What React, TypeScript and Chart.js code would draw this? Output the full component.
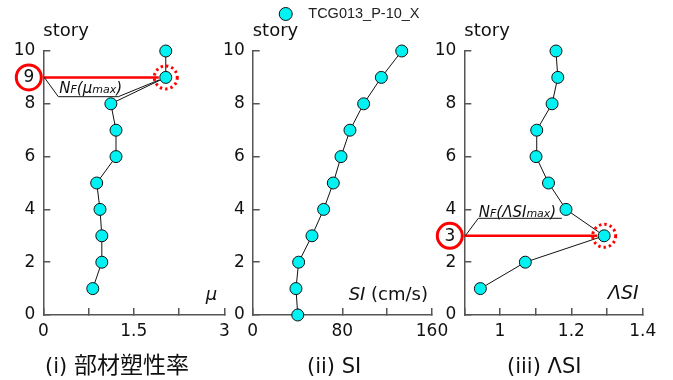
import React, { useEffect, useRef } from "react";
import { Chart, registerables } from "chart.js";

Chart.register(...registerables);

const W = 673;
const H = 380;
const FONT = "'DejaVu Sans', 'Liberation Sans', sans-serif";
const LEGEND_FONT = "'Liberation Sans', Arial, sans-serif";
const CJK_FONT = "'Noto Sans CJK JP', 'Noto Sans CJK SC', sans-serif";
const INK = "#111111";
const AXIS = "#555555";
const RED = "#ff0000";
const CYAN = "#00f2f2";

// ---------------- data ----------------
const seriesName = "TCG013_P-10_X";
const storyTicks = [0, 2, 4, 6, 8, 10];

const muStories = [1, 2, 3, 4, 5, 6, 7, 8, 9, 10];
const muValues = [0.82, 0.97, 0.97, 0.94, 0.885, 1.205, 1.205, 1.12, 2.03, 2.03];
const muTicks = [0, 0.75, 1.5, 2.25, 3];
const muTickLabels = ["0", "", "1.5", "", "3"];

const siStories = [0, 1, 2, 3, 4, 5, 6, 7, 8, 9, 10];
const siValues = [40.2, 38.6, 41, 52.9, 63.3, 71.9, 78.8, 86.8, 99, 114.8, 133];
const siTicks = [0, 40, 80, 120, 160];
const siTickLabels = ["0", "", "80", "", "160"];

const lsiStories = [1, 2, 3, 4, 5, 6, 7, 8, 9, 10];
const lsiValues = [0.945, 1.071, 1.292, 1.185, 1.136, 1.101, 1.103, 1.146, 1.162, 1.157];
const lsiTicks = [0.9, 1.0, 1.1, 1.2, 1.3, 1.4];
const lsiTickLabels = ["", "1", "", "1.2", "", "1.4"];

const muMaxStory = 9;
const lsiMaxStory = 3;

const captions = ["(i) ", "部材塑性率", "(ii) SI", "(iii) ΛSI"];

// ---------------- layout ----------------
const PANELS = [
  { left: 43.3, right: 224.3, xMin: 0, xMax: 3 },
  { left: 252.7, right: 432, xMin: 0, xMax: 160 },
  { left: 464.3, right: 642.7, xMin: 0.9, xMax: 1.4 },
];
const PLOT_BOTTOM = 315;
const Y_AXIS_W = 40;
const X_AXIS_H = 30;

type Part = { t: string; s: number; i?: boolean; f?: string };

function drawParts(ctx: CanvasRenderingContext2D, parts: Part[], x: number, y: number, align: "left" | "right" = "left") {
  ctx.save();
  ctx.textBaseline = "alphabetic";
  ctx.textAlign = "left";
  ctx.fillStyle = INK;
  const fonts = parts.map((p) => `${p.i ? "italic " : ""}${p.s}px ${p.f || FONT}`);
  const ws = parts.map((p, k) => {
    ctx.font = fonts[k];
    return ctx.measureText(p.t).width;
  });
  const total = ws.reduce((a, b) => a + b, 0);
  let cx = align === "right" ? x - total : x;
  parts.forEach((p, k) => {
    ctx.font = fonts[k];
    ctx.fillText(p.t, cx, y);
    cx += ws[k];
  });
  ctx.restore();
}

function line(ctx: CanvasRenderingContext2D, pts: number[][], color: string, width: number) {
  ctx.save();
  ctx.strokeStyle = color;
  ctx.lineWidth = width;
  ctx.beginPath();
  pts.forEach((p, k) => (k === 0 ? ctx.moveTo(p[0], p[1]) : ctx.lineTo(p[0], p[1])));
  ctx.stroke();
  ctx.restore();
}

function annotationPlugin(idx: number) {
  const maxInfo =
    idx === 0
      ? { story: muMaxStory, value: muValues[muStories.indexOf(muMaxStory)] }
      : idx === 2
      ? { story: lsiMaxStory, value: lsiValues[lsiStories.indexOf(lsiMaxStory)] }
      : null;
  return {
    id: "annot" + idx,
    beforeDatasetsDraw(chart: any) {
      const { ctx, chartArea: ca, scales } = chart;
      if (!maxInfo) return;
      const py = scales.y.getPixelForValue(maxInfo.story);
      const px = scales.x.getPixelForValue(maxInfo.value);
      line(ctx, [[ca.left, py], [px - 7, py]], RED, 2.5);
      if (idx === 0) {
        line(ctx, [[ca.left + 1, py], [ca.left + 15, py + 19.3], [ca.left + 75, py + 19.3], [px - 6.5, py + 2.5]], INK, 1);
      } else {
        line(ctx, [[ca.left + 1, py], [ca.left + 14, py - 17.5], [ca.left + 97.5, py - 17.5]], INK, 1);
      }
    },
    afterDatasetsDraw(chart: any) {
      const { ctx, chartArea: ca, scales } = chart;
      if (maxInfo) {
        const py = scales.y.getPixelForValue(maxInfo.story);
        const px = scales.x.getPixelForValue(maxInfo.value);
        const cx = ca.left - 14.5;
        ctx.save();
        ctx.strokeStyle = RED;
        ctx.lineWidth = 3;
        ctx.beginPath();
        ctx.arc(cx, py, 12.5, 0, Math.PI * 2);
        ctx.stroke();
        ctx.fillStyle = INK;
        ctx.font = `17px ${FONT}`;
        ctx.textAlign = "center";
        ctx.textBaseline = "middle";
        ctx.fillText(String(maxInfo.story), cx, py + 0.5);
        ctx.setLineDash([2.4, 3]);
        ctx.beginPath();
        ctx.arc(px, py, 11.5, 0, Math.PI * 2);
        ctx.stroke();
        ctx.restore();
        if (idx === 0) {
          drawParts(ctx, [
            { t: "N", s: 15, i: true },
            { t: "F", s: 11, i: true },
            { t: "(μ", s: 15, i: true },
            { t: "max", s: 11, i: true },
            { t: ")", s: 15, i: true },
          ], ca.left + 16, py + 16);
        } else {
          drawParts(ctx, [
            { t: "N", s: 15, i: true },
            { t: "F", s: 11, i: true },
            { t: "(ΛSI", s: 15, i: true },
            { t: "max", s: 11, i: true },
            { t: ")", s: 15, i: true },
          ], ca.left + 14.5, py - 19);
        }
      }
      if (idx === 0) {
        drawParts(ctx, [{ t: "μ", s: 18, i: true }], ca.right - 7, ca.bottom - 15, "right");
        drawParts(ctx, [{ t: captions[0], s: 21 }, { t: captions[1], s: 23, f: CJK_FONT }], ca.left + 1.7, 372.5);
      } else if (idx === 1) {
        drawParts(ctx, [{ t: "SI", s: 18, i: true }, { t: " (cm/s)", s: 18 }], ca.right - 4, ca.bottom - 15, "right");
        drawParts(ctx, [{ t: captions[2], s: 21 }], ca.left + 54.3, 372.5);
      } else {
        drawParts(ctx, [{ t: "ΛSI", s: 19, i: true }], ca.right - 4, ca.bottom - 16, "right");
        drawParts(ctx, [{ t: captions[3], s: 21 }], ca.left + 42.7, 372.5);
      }
    },
  };
}

function axisCommon() {
  return {
    grid: { display: true, drawOnChartArea: false, drawTicks: true, tickLength: -7, color: AXIS, lineWidth: 1.5 },
    border: { display: true, color: AXIS, width: 1.5 },
  };
}

function buildConfig(idx: number): any {
  const stories = [muStories, siStories, lsiStories][idx];
  const values = [muValues, siValues, lsiValues][idx];
  const xt = [muTicks, siTicks, lsiTicks][idx];
  const xl = [muTickLabels, siTickLabels, lsiTickLabels][idx];
  const geo = PANELS[idx];
  const withLegend = idx === 1;
  return {
    type: "scatter",
    data: {
      datasets: [
        {
          label: seriesName,
          data: stories.map((s, k) => ({ x: values[k], y: s })),
          showLine: true,
          borderColor: INK,
          borderWidth: 1,
          pointRadius: 6,
          pointHoverRadius: 6,
          pointBackgroundColor: CYAN,
          pointBorderColor: INK,
          pointBorderWidth: 1,
          pointStyle: "circle",
          clip: false,
        },
      ],
    },
    options: {
      responsive: false,
      animation: false,
      events: [],
      layout: {
        padding: {
          left: geo.left - Y_AXIS_W,
          right: W - geo.right,
          top: withLegend ? -5.75 : 0,
          bottom: H - PLOT_BOTTOM - X_AXIS_H,
        },
      },
      scales: {
        x: {
          type: "linear",
          position: "bottom",
          min: geo.xMin,
          max: geo.xMax,
          afterBuildTicks: (s: any) => {
            s.ticks = xt.map((v) => ({ value: v }));
          },
          afterFit: (s: any) => {
            s.height = X_AXIS_H;
          },
          ...axisCommon(),
          ticks: {
            autoSkip: false,
            maxRotation: 0,
            padding: 13,
            color: INK,
            font: { family: FONT, size: 17 },
            callback: (_v: any, i: number) => xl[i],
          },
        },
        y: {
          type: "linear",
          position: "left",
          min: 0,
          max: 10,
          afterBuildTicks: (s: any) => {
            s.ticks = storyTicks.map((v) => ({ value: v }));
          },
          afterFit: (s: any) => {
            s.width = Y_AXIS_W;
          },
          ...axisCommon(),
          ticks: {
            autoSkip: false,
            padding: 15,
            color: INK,
            font: { family: FONT, size: 17 },
            callback: (v: any) => String(v),
          },
        },
      },
      plugins: {
        legend: withLegend
          ? {
              display: true,
              position: "top",
              align: "end",
              fullSize: false,
              weight: 3000,
              labels: {
                usePointStyle: true,
                pointStyle: "circle",
                boxWidth: 14.5,
                boxHeight: 9.2,
                padding: 12.5,
                color: "#222222",
                font: { family: LEGEND_FONT, size: 14.5 },
                generateLabels: (chart: any) =>
                  Chart.defaults.plugins.legend.labels.generateLabels(chart).map((it: any) => ({
                    ...it,
                    text: "  " + it.text,
                  })),
              },
            }
          : { display: false },
        title: {
          display: true,
          text: "story",
          position: "top",
          align: "start",
          fullSize: false,
          color: INK,
          font: { family: FONT, size: 18, weight: "normal", lineHeight: 1 },
          padding: withLegend ? { top: -9.25, bottom: 11 } : { top: 22, bottom: 11 },
        },
        tooltip: { enabled: false },
      },
    },
    plugins: [annotationPlugin(idx)],
  };
}

export default function App() {
  const r0 = useRef<HTMLCanvasElement>(null);
  const r1 = useRef<HTMLCanvasElement>(null);
  const r2 = useRef<HTMLCanvasElement>(null);
  const refs = [r0, r1, r2];
  useEffect(() => {
    const charts = refs.map((r, i) => new Chart(r.current as HTMLCanvasElement, buildConfig(i)));
    return () => charts.forEach((c) => c.destroy());
  }, []);
  return (
    <div style={{ position: "absolute", left: 0, top: 0, width: W, height: H, background: "#ffffff" }}>
      {refs.map((r, i) => (
        <canvas
          key={i}
          ref={r}
          width={W}
          height={H}
          style={{ position: "absolute", left: 0, top: 0, width: W, height: H }}
        />
      ))}
    </div>
  );
}
